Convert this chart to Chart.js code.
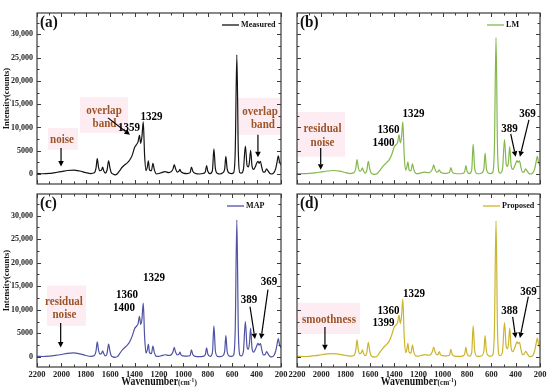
<!DOCTYPE html>
<html><head><meta charset="utf-8">
<script src="https://cdn.jsdelivr.net/npm/chart.js@4/dist/chart.umd.min.js"></script>
<style>
html,body{margin:0;padding:0;background:#fff;}
#wrap{position:relative;width:550px;height:391px;overflow:hidden;background:#fff;}
#wrap canvas{position:absolute;left:0;top:0;}
</style></head><body>
<div id="wrap">
<canvas id="ca" width="550" height="391"></canvas>
<canvas id="cb" width="550" height="391"></canvas>
<canvas id="cc" width="550" height="391"></canvas>
<canvas id="cd" width="550" height="391"></canvas>
</div>
<script>
// ---------- data ----------
const wavenumbers = [2200,2150,2100,2050,2000,1950,1900,1850,1800,1760,1730,1716,1706,1696,1684,1670,1662,1653,1640,1626,1613,1602,1592,1578,1560,1540,1520,1500,1480,1460,1440,1420,1400,1385,1372,1360,1350,1340,1329,1318,1306,1296,1287,1278,1262,1250,1238,1220,1200,1180,1150,1120,1100,1085,1075,1065,1050,1036,1028,1020,1000,970,945,934,923,900,870,840,820,810,800,780,762,750,738,720,700,680,662,652,642,625,605,588,575,562,550,538,525,508,492,478,468,459,449,438,425,410,398,389,380,369,358,345,330,318,305,290,275,258,244,232,222,212,200];

const measured = [150,50,120,300,500,750,850,650,300,100,250,1300,3300,1500,700,900,1500,700,200,800,2800,1300,300,0,-200,100,800,1500,2000,2400,3000,4000,5700,6300,6900,8300,6600,8000,11200,4000,700,1500,2800,900,700,2300,900,0,100,300,500,300,500,1100,2000,1200,400,600,1000,500,200,100,300,1500,600,100,0,100,500,1800,600,100,800,5400,1200,100,0,200,1000,3800,1200,200,100,300,5000,25600,5000,300,200,1000,6000,1800,1500,2500,5100,1800,1000,1600,2400,2700,2300,2700,1500,400,500,1100,600,100,0,300,1100,2600,3900,2600,1900];

const lm = [100,80,120,250,450,650,750,600,300,100,300,1300,3100,1500,600,800,1300,700,200,700,2700,1200,300,0,-100,100,700,1400,2000,2500,3100,4200,5800,6300,6800,8400,6700,7800,11200,4200,800,1500,2600,900,700,2200,900,100,100,250,400,300,450,1100,1900,1100,400,600,900,450,200,150,300,1400,500,100,50,100,500,1800,600,100,900,6400,1300,100,50,200,1100,4500,1300,200,100,400,6000,29300,6000,400,200,1200,7400,2000,1600,2700,5900,1900,1000,1600,2400,2900,2500,2800,1600,400,500,1100,600,100,0,300,1100,2600,3800,2500,1800];

const map = [100,80,150,300,500,750,850,650,300,100,300,1300,3200,1500,600,800,1300,700,200,700,2700,1200,300,0,-100,100,800,1500,2000,2500,3200,4400,6000,6500,7000,8600,6900,8000,11400,4300,800,1500,2700,900,700,2300,900,100,100,250,450,300,450,1100,2000,1100,400,600,1000,450,200,150,300,1500,500,100,50,100,500,1900,600,100,900,6600,1300,100,50,200,1100,4500,1300,200,100,400,6000,29100,6000,400,200,1200,7500,2000,1600,2800,6100,1900,1000,1600,2400,2900,2500,2800,1600,400,500,1100,600,100,0,300,1200,2700,3900,2600,1900];

const proposed = [100,80,120,250,450,650,700,550,300,150,350,1500,3600,1600,700,900,1500,800,250,800,3100,1300,350,50,-50,150,900,1600,2200,2700,3400,4700,6300,6800,7300,8900,7100,8500,12300,4600,900,1600,2900,1000,800,2500,1000,150,150,300,500,350,500,1200,2100,1200,450,650,1100,500,250,200,350,1600,550,150,100,150,600,2000,650,150,950,6600,1400,150,100,250,1200,4500,1400,250,150,450,6000,28900,6000,450,250,1300,7300,2100,1700,2900,6100,2000,1100,1800,2700,3200,2800,3100,1800,500,600,1200,700,150,50,350,1300,2800,4000,2700,2000];

const xTicks = [2200,2000,1800,1600,1400,1200,1000,800,600,400,200];
const yTicks = [0,5000,10000,15000,20000,25000,30000];
const yTickLabels = ['0','5000','10,000','15,000','20,000','25,000','30,000'];
const seriesNames = ['Measured','LM','MAP','Proposed'];
const panelLetters = ['(a)','(b)','(c)','(d)'];

// ---------- panels ----------
const SERIF = '"Liberation Serif","Times New Roman",serif';
const BROWN = '#9c5428';
const panels = [
 {canvas:'ca', series:measured, name:seriesNames[0], letter:panelLetters[0], color:'#141414', area:{l:37,t:13,r:281,b:184}, showY:true, showX:false, legDx:-59,
  ann:[
   {t:'box',w1:2110,i1:9900,w2:1864,i2:5200},
   {t:'text',s:'noise',w:1995,i:7350,c:BROWN},
   {t:'arrow',w1:2003,i1:5600,w2:2003,i2:1600},
   {t:'box',w1:1848,i1:16500,w2:1454,i2:8850},
   {t:'text',s:'overlap',w:1651,i:13670,c:BROWN},
   {t:'text',s:'band',w:1647,i:10885,c:BROWN},
   {t:'arrow',w1:1618,i1:12060,w2:1438,i2:8420},
   {t:'text',s:'1359',w:1446,i:9920,c:'#000'},
   {t:'text',s:'1329',w:1261,i:12280,c:'#000'},
   {t:'box',w1:552,i1:16350,w2:200,i2:8420},
   {t:'text',s:'overlap',w:372,i:13350,c:BROWN},
   {t:'text',s:'band',w:348,i:10560,c:BROWN},
   {t:'arrow',w1:389,i1:8420,w2:389,i2:3600}
  ]},
 {canvas:'cb', series:lm, name:seriesNames[1], letter:panelLetters[1], color:'#84b84c', area:{l:297,t:13,r:540,b:184}, showY:false, showX:false, legDx:-53,
  ann:[
   {t:'box',w1:2200,i1:13350,w2:1805,i2:3700},
   {t:'text',s:'residual',w:1990,i:9700,c:BROWN},
   {t:'text',s:'noise',w:1990,i:6800,c:BROWN},
   {t:'arrow',w1:2005,i1:5600,w2:2005,i2:900},
   {t:'text',s:'1360',w:1447,i:9490,c:'#000'},
   {t:'text',s:'1400',w:1488,i:6810,c:'#000'},
   {t:'text',s:'1329',w:1241,i:13030,c:'#000'},
   {t:'text',s:'389',w:451,i:9700,c:'#000'},
   {t:'text',s:'369',w:303,i:13030,c:'#000'},
   {t:'arrow',w1:441,i1:8630,w2:400,i2:3700},
   {t:'arrow',w1:291,i1:11630,w2:365,i2:3700}
  ]},
 {canvas:'cc', series:map, name:seriesNames[2], letter:panelLetters[2], color:'#5053a4', area:{l:37,t:194,r:281,b:367}, showY:true, showX:true, legDx:-54,
  ann:[
   {t:'box',w1:2118,i1:15150,w2:1798,i2:6580},
   {t:'text',s:'residual',w:1979,i:11720,c:BROWN},
   {t:'text',s:'noise',w:1975,i:8935,c:BROWN},
   {t:'arrow',w1:2006,i1:7220,w2:2006,i2:2000},
   {t:'text',s:'1360',w:1462,i:13220,c:'#000'},
   {t:'text',s:'1400',w:1487,i:10435,c:'#000'},
   {t:'text',s:'1329',w:1241,i:16860,c:'#000'},
   {t:'text',s:'389',w:462,i:12150,c:'#000'},
   {t:'text',s:'369',w:298,i:16000,c:'#000'},
   {t:'arrow',w1:454,i1:10650,w2:413,i2:3790},
   {t:'arrow',w1:307,i1:14290,w2:364,i2:3790}
  ]},
 {canvas:'cd', series:proposed, name:seriesNames[3], letter:panelLetters[3], color:'#ccb52c', area:{l:297,t:194,r:540,b:367}, showY:false, showX:true, legDx:-57,
  ann:[
   {t:'box',w1:2192,i1:11500,w2:1681,i2:4860},
   {t:'text',s:'smoothness',w:1937,i:7860,c:BROWN},
   {t:'arrow',w1:1970,i1:6360,w2:1970,i2:1400},
   {t:'text',s:'1360',w:1447,i:9790,c:'#000'},
   {t:'text',s:'1399',w:1488,i:7330,c:'#000'},
   {t:'text',s:'1329',w:1237,i:13435,c:'#000'},
   {t:'text',s:'388',w:451,i:9790,c:'#000'},
   {t:'text',s:'369',w:295,i:13860,c:'#000'},
   {t:'arrow',w1:425,i1:8500,w2:400,i2:4000},
   {t:'arrow',w1:296,i1:12780,w2:365,i2:4000}
  ]}
];

const Y_MIN = -2150, Y_MAX = 34600;
const YAXIS_W = 37, XAXIS_H = 24;

function px(chart, w, i){ return [chart.scales.x.getPixelForValue(w), chart.scales.y.getPixelForValue(i)]; }
function ctext(ctx, s, x, y, size, color, sx, align){
  ctx.save();
  ctx.font = 'bold ' + size + 'px ' + SERIF;
  ctx.fillStyle = color; ctx.textBaseline = 'middle'; ctx.textAlign = align || 'center';
  ctx.translate(x, y); ctx.scale(sx, 1); ctx.fillText(s, 0, 0);
  ctx.restore();
}
function arrow(ctx, x1, y1, x2, y2){
  const a = Math.atan2(y2 - y1, x2 - x1), hl = 5.5, hw = 2.8;
  const bx = x2 - Math.cos(a) * hl, by = y2 - Math.sin(a) * hl;
  ctx.save(); ctx.strokeStyle = '#000'; ctx.fillStyle = '#000'; ctx.lineWidth = 1.2;
  ctx.beginPath(); ctx.moveTo(x1, y1); ctx.lineTo(bx, by); ctx.stroke();
  ctx.beginPath(); ctx.moveTo(x2, y2);
  ctx.lineTo(bx - Math.sin(a) * hw, by + Math.cos(a) * hw);
  ctx.lineTo(bx + Math.sin(a) * hw, by - Math.cos(a) * hw);
  ctx.closePath(); ctx.fill(); ctx.restore();
}

function makeDecor(p){
  return {
    id: 'decor_' + p.canvas,
    beforeDatasetsDraw(chart){
      const ctx = chart.ctx;
      ctx.save(); ctx.fillStyle = '#fdedf3';
      for (const a of p.ann) if (a.t === 'box'){
        const [x1, y1] = px(chart, a.w1, a.i1), [x2, y2] = px(chart, a.w2, a.i2);
        ctx.fillRect(Math.min(x1, x2), Math.min(y1, y2), Math.abs(x2 - x1), Math.abs(y2 - y1));
      }
      ctx.restore();
    },
    afterDraw(chart){
      const ctx = chart.ctx, ca = chart.chartArea, xs = chart.scales.x, ys = chart.scales.y;
      ctx.save();
      ctx.strokeStyle = '#3a3a3a'; ctx.lineWidth = 1.2;
      ctx.strokeRect(ca.left, ca.top, ca.right - ca.left, ca.bottom - ca.top);
      ctx.lineWidth = 1; ctx.beginPath();
      for (let w = 200; w <= 2200; w += 100){
        const x = Math.round(xs.getPixelForValue(w)) + 0.5, len = (w % 200 === 0) ? 4 : 2.5;
        ctx.moveTo(x, ca.top); ctx.lineTo(x, ca.top + len);
        ctx.moveTo(x, ca.bottom); ctx.lineTo(x, ca.bottom - len);
      }
      for (let v = 0; v <= 32500; v += 2500){
        const y = Math.round(ys.getPixelForValue(v)) + 0.5, len = (v % 5000 === 0) ? 4 : 2.5;
        ctx.moveTo(ca.left, y); ctx.lineTo(ca.left + len, y);
        ctx.moveTo(ca.right, y); ctx.lineTo(ca.right - len, y);
      }
      ctx.stroke();
      // legend
      const lx = ca.right + p.legDx, ly = ca.top + 12;
      ctx.strokeStyle = p.color; ctx.lineWidth = 1.3;
      ctx.beginPath(); ctx.moveTo(lx, ly); ctx.lineTo(lx + 17, ly); ctx.stroke();
      ctext(ctx, p.name, lx + 19, ly, 9, '#111', 0.9, 'left');
      // panel letter
      ctext(ctx, p.letter, ca.left + 3, ca.top + 10, 16, '#111', 0.95, 'left');
      // annotations
      for (const a of p.ann){
        if (a.t === 'text'){
          const [x, y] = px(chart, a.w, a.i);
          ctext(ctx, a.s, x, y, 13, a.c, 0.85, 'center');
        } else if (a.t === 'arrow'){
          const [x1, y1] = px(chart, a.w1, a.i1), [x2, y2] = px(chart, a.w2, a.i2);
          arrow(ctx, x1, y1, x2, y2);
        }
      }
      // x axis title
      if (p.showX){
        const cx = (ca.left + ca.right) / 2, ty = 382;
        ctx.font = 'bold 12px ' + SERIF;
        const w1 = ctx.measureText('Wavenumber').width * 0.82;
        ctx.font = 'bold 8px ' + SERIF;
        const w2 = (ctx.measureText('(cm').width + ctx.measureText('-1').width * 0.8 + ctx.measureText(')').width) * 0.9;
        let x0 = cx - (w1 + w2) / 2;
        ctext(ctx, 'Wavenumber', x0, ty, 12, '#111', 0.82, 'left');
        x0 += w1;
        ctx.font = 'bold 8px ' + SERIF;
        const wa = ctx.measureText('(cm').width * 0.9;
        ctext(ctx, '(cm', x0, ty + 1, 8, '#111', 0.9, 'left');
        x0 += wa;
        const wb = ctx.measureText('-1').width * 0.8 * 0.9;
        ctext(ctx, '-1', x0, ty - 2, 6, '#111', 0.9, 'left');
        x0 += wb;
        ctext(ctx, ')', x0, ty + 1, 8, '#111', 0.9, 'left');
      }
      ctx.restore();
    }
  };
}

for (const p of panels){
  const pts = wavenumbers.map((w, k) => ({x: w, y: p.series[k]}));
  new Chart(document.getElementById(p.canvas), {
    type: 'line',
    data: { datasets: [{ label: p.name, data: pts, borderColor: p.color, borderWidth: 1.2,
      pointRadius: 0, fill: false, cubicInterpolationMode: 'monotone' }] },
    options: {
      responsive: false, animation: false, events: [],
      layout: { padding: {
        left: p.showY ? p.area.l - YAXIS_W : p.area.l,
        top: p.area.t,
        right: 550 - p.area.r,
        bottom: 391 - p.area.b - (p.showX ? XAXIS_H : 0)
      }},
      plugins: { legend: { display: false }, tooltip: { enabled: false } },
      scales: {
        x: {
          type: 'linear', reverse: true, min: 200, max: 2200,
          afterBuildTicks: s => { s.ticks = xTicks.map(v => ({value: v})); },
          afterFit: s => { s.height = p.showX ? XAXIS_H : 0; },
          grid: { display: false, drawTicks: false },
          border: { display: false },
          ticks: { display: p.showX, autoSkip: false, maxRotation: 0, padding: 3, color: '#222',
            font: { family: SERIF, size: 8.5, weight: 'bold' }, callback: v => String(v) }
        },
        y: {
          type: 'linear', min: Y_MIN, max: Y_MAX,
          afterBuildTicks: s => { s.ticks = yTicks.map(v => ({value: v})); },
          afterFit: s => { s.width = p.showY ? YAXIS_W : 0; },
          grid: { display: false, drawTicks: false },
          border: { display: false },
          ticks: { display: p.showY, autoSkip: false, padding: 4, color: '#222',
            font: { family: SERIF, size: 8, weight: 'bold' },
            callback: (v) => { const k = yTicks.indexOf(v); return k >= 0 ? yTickLabels[k] : ''; } },
          title: { display: p.showY, text: 'Intensity(counts)', color: '#111', padding: {top: 2, bottom: 0},
            font: { family: SERIF, size: 8.5, weight: 'bold' } }
        }
      }
    },
    plugins: [makeDecor(p)]
  });
}
</script>
</body></html>
